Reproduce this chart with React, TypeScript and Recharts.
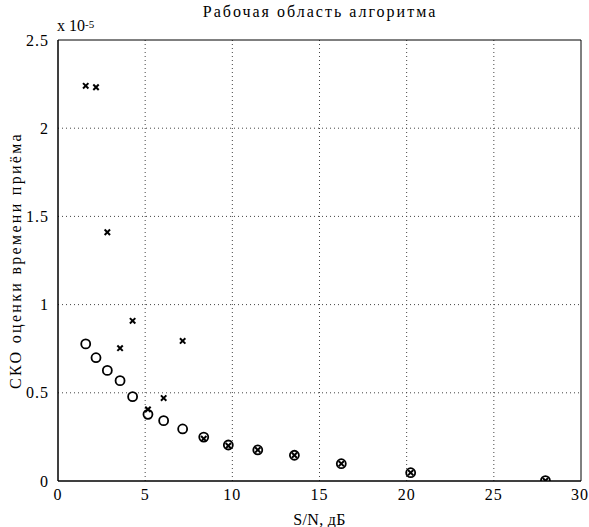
import React from 'react';
import { ScatterChart, Scatter, XAxis, YAxis, CartesianGrid, ReferenceArea } from 'recharts';

const snr = [1.59, 2.18, 2.83, 3.56, 4.28, 5.16, 6.06, 7.15, 8.36, 9.77, 11.46, 13.56, 16.25, 20.23, 27.96];
const circleVals = [0.777, 0.699, 0.627, 0.569, 0.478, 0.378, 0.342, 0.295, 0.249, 0.204, 0.176, 0.146, 0.098, 0.047, 0.002];
const crossVals = [2.24, 2.232, 1.41, 0.753, 0.908, 0.406, 0.47, 0.794, 0.24, 0.2, 0.176, 0.146, 0.098, 0.047, 0.002];
const xTicks = [0, 5, 10, 15, 20, 25, 30];
const yTicks = [0, 0.5, 1, 1.5, 2, 2.5];

const circleData = snr.map((x, i) => ({ x, y: circleVals[i] }));
const crossData = snr.map((x, i) => ({ x, y: crossVals[i] }));

const FONT = '"Liberation Serif", "Times New Roman", serif';

const CircleShape = (p: any) => (
  <circle cx={p.cx} cy={p.cy} r={4.5} fill="none" stroke="#000" strokeWidth={1.8} />
);
const CrossShape = (p: any) => {
  const s = 2.7;
  return (
    <g stroke="#000" strokeWidth={2}>
      <line x1={p.cx - s} y1={p.cy - s} x2={p.cx + s} y2={p.cy + s} />
      <line x1={p.cx - s} y1={p.cy + s} x2={p.cx + s} y2={p.cy - s} />
    </g>
  );
};

const tickStyle = { fill: '#000', fontSize: 16, fontFamily: FONT, letterSpacing: 1 };

export default function App() {
  return (
    <div style={{ position: 'absolute', left: 0, top: 0, width: 589, height: 527, background: '#fff', fontFamily: FONT }}>
      <ScatterChart
        width={589}
        height={527}
        margin={{ top: 40, right: 8, bottom: 16, left: 18 }}
        style={{ fontFamily: FONT }}
      >
        <CartesianGrid
          stroke="#444"
          strokeDasharray="1 3"
          horizontalValues={[0.5, 1, 1.5, 2]}
          verticalValues={[5, 10, 15, 20, 25]}
        />
        <XAxis
          type="number"
          dataKey="x"
          domain={[0, 30]}
          ticks={xTicks}
          height={30}
          stroke="#000"
          tickLine={false}
          tickMargin={2}
          tick={tickStyle}
          label={{ value: 'S/N, дБ', position: 'insideBottom', offset: -14, fill: '#000', fontSize: 16, fontFamily: FONT, style: { letterSpacing: 0.3 } }}
          allowDataOverflow
        />
        <YAxis
          type="number"
          dataKey="y"
          domain={[0, 2.5]}
          ticks={yTicks}
          width={40}
          stroke="#000"
          tickLine={false}
          tickMargin={3}
          tick={tickStyle}
          label={{ value: 'СКО оценки времени приёма', angle: -90, position: 'insideLeft', offset: -3, style: { textAnchor: 'middle', letterSpacing: 2.3 }, fill: '#000', fontSize: 16, fontFamily: FONT }}
          allowDataOverflow
        />
        <ReferenceArea x1={0} x2={30} y1={0} y2={2.5} fill="none" stroke="#000" strokeWidth={1} ifOverflow="visible" />
        <Scatter data={circleData} shape={CircleShape} isAnimationActive={false} />
        <Scatter data={crossData} shape={CrossShape} isAnimationActive={false} />
      </ScatterChart>
      <div style={{ position: 'absolute', left: 0, width: 640, top: 3, textAlign: 'center', fontSize: 16, letterSpacing: 2, color: '#000' }}>
        Рабочая область алгоритма
      </div>
      <div style={{ position: 'absolute', left: 57, top: 17, fontSize: 16, color: '#000', whiteSpace: 'nowrap', lineHeight: '18px' }}>
        x 10<sup style={{ fontSize: 11, position: 'relative', top: -3, verticalAlign: 'baseline' }}>-5</sup>
      </div>
    </div>
  );
}
